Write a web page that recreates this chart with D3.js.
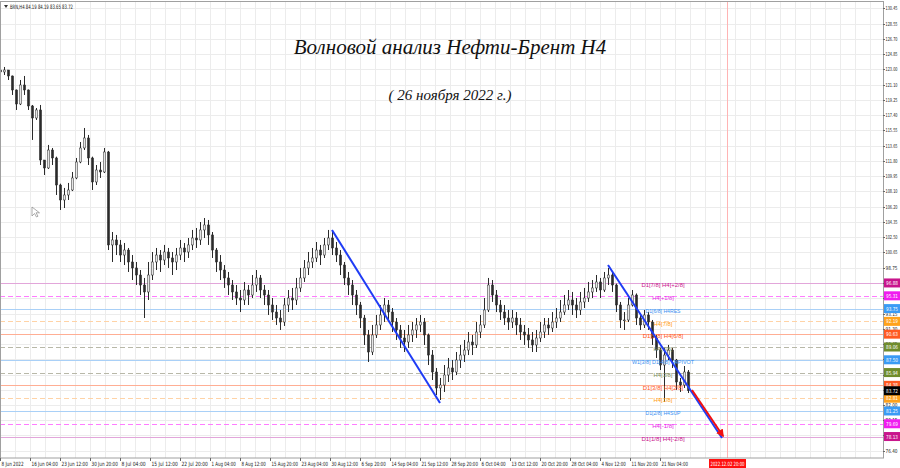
<!DOCTYPE html>
<html><head><meta charset="utf-8">
<script src="https://cdn.jsdelivr.net/npm/d3@7"></script>
<style>
html,body{margin:0;padding:0;background:#fff;}
svg{display:block;font-family:"Liberation Sans",Arial,sans-serif;}
.small{font-family:"Liberation Sans Narrow","DejaVu Sans Condensed","Liberation Sans",sans-serif;}
</style></head>
<body><svg id="chart" width="900" height="468"></svg>
<script>
// ---- DATA (prices; each candle groups 4 H4 bars) ----
const opens = [122.88,122.64,122.88,122.15,120.44,118.73,121.05,120.44,118.49,117.02,118.00,111.89,110.92,113.11,112.14,108.84,107.01,107.62,108.23,109.70,111.65,113.36,114.58,112.14,109.21,110.67,110.43,112.87,101.52,102.13,101.52,100.29,100.90,99.44,98.71,97.85,96.63,95.78,97.85,99.44,100.29,99.68,100.66,99.93,99.44,100.29,101.15,100.66,101.52,102.37,102.13,103.35,103.96,102.74,100.90,99.44,98.46,97.49,96.63,95.78,95.04,94.80,96.02,95.41,96.63,97.49,96.02,95.41,94.19,93.33,92.60,92.11,94.19,95.04,94.80,96.27,97.49,98.71,99.44,99.93,100.90,100.29,101.52,102.37,101.15,100.29,99.07,97.49,96.63,95.41,94.19,92.60,90.53,88.45,90.53,91.75,92.97,94.19,93.33,92.11,91.14,90.16,89.67,90.53,91.14,91.75,92.11,90.53,88.08,86.01,84.06,84.42,85.64,86.50,86.01,87.47,88.08,88.69,89.67,89.31,90.89,91.75,93.58,96.63,95.41,94.19,93.33,92.60,92.11,92.60,91.75,90.89,90.53,89.92,89.31,90.16,90.89,91.75,91.38,92.11,92.60,93.33,94.19,94.80,94.19,93.58,94.56,95.04,95.78,96.27,97.00,96.02,97.49,97.85,96.63,94.19,92.36,92.36,94.19,95.41,92.60,91.75,92.97,92.11,90.16,88.69,86.86,88.08,88.69,87.47,84.79,84.42,86.01];
const highs = [123.13,123.25,122.88,122.20,120.50,121.66,122.15,120.50,118.61,118.24,118.61,111.89,113.73,113.36,112.30,109.00,108.48,109.09,110.43,112.14,114.09,115.80,114.95,112.30,111.28,111.65,113.36,113.00,103.10,102.74,102.13,101.76,101.15,100.29,99.44,98.46,97.49,99.44,100.66,101.15,100.90,101.52,101.15,100.66,101.15,102.13,101.76,102.37,103.35,103.59,104.32,104.81,104.57,103.10,101.15,100.29,99.07,98.22,97.24,96.63,96.02,97.00,96.63,97.85,98.46,97.85,96.63,96.02,95.04,94.19,93.58,95.04,96.02,96.27,97.49,98.71,99.68,100.66,101.15,101.88,101.52,102.37,103.35,103.10,101.88,100.90,99.44,98.22,97.24,96.02,94.56,92.97,91.14,91.75,92.97,94.19,95.04,94.80,93.82,92.60,91.75,91.14,91.75,92.11,92.60,92.97,92.60,90.70,88.69,86.50,85.28,86.86,87.72,87.47,88.45,89.31,89.92,90.89,90.53,92.11,92.97,95.04,97.49,97.24,96.02,94.80,94.19,93.58,93.58,93.33,92.60,91.75,91.38,90.89,91.14,92.11,92.60,92.60,93.33,93.82,94.80,95.41,96.02,95.78,95.04,95.78,96.27,97.00,97.24,97.85,97.49,98.22,98.71,98.22,96.80,94.56,93.33,95.04,96.02,95.60,92.97,93.58,93.33,92.36,90.53,88.94,88.94,89.31,88.94,87.60,85.28,86.74,86.25];
const lows = [122.15,122.27,121.66,119.83,118.00,118.60,119.83,118.00,114.34,116.78,111.28,110.06,110.80,111.28,107.62,105.79,106.03,107.01,108.10,109.55,111.50,113.11,111.28,108.23,108.84,109.70,110.30,100.90,99.44,100.29,99.44,99.07,98.22,97.24,96.63,95.41,92.60,94.80,97.24,98.46,98.22,99.07,98.71,97.85,98.46,99.68,99.44,99.93,100.90,101.15,101.52,102.37,101.52,99.93,98.22,97.24,96.27,95.41,94.80,94.19,93.33,94.19,94.19,95.04,95.78,95.04,94.19,92.97,92.36,91.75,91.14,91.63,93.33,93.58,94.19,95.78,97.00,97.85,98.71,99.44,99.07,99.93,100.90,100.29,99.44,97.85,96.63,95.41,94.19,92.97,91.38,89.31,87.23,88.08,90.16,91.14,92.11,92.11,90.89,89.92,88.94,88.45,88.94,89.67,90.16,90.89,89.31,86.86,85.03,83.20,82.59,83.57,84.79,85.03,85.64,86.50,87.23,88.08,88.08,88.94,90.16,91.38,93.33,94.56,93.33,92.36,91.75,91.14,91.38,90.53,89.92,89.31,88.94,88.45,88.45,89.67,90.16,90.53,90.89,91.38,92.11,92.97,93.58,92.97,92.60,92.97,93.82,94.56,95.04,95.78,95.04,95.78,96.63,95.78,93.33,91.38,91.14,92.11,94.00,91.75,91.14,91.38,91.14,89.31,87.72,86.25,82.35,87.47,86.50,83.81,83.57,84.06,83.44];
const closes = [122.64,122.88,122.15,120.44,118.73,121.05,120.44,118.49,117.02,118.00,111.89,110.92,113.11,112.14,108.84,107.01,107.62,108.23,109.70,111.65,113.36,114.58,112.14,109.21,110.67,110.43,112.87,101.52,102.13,101.52,100.29,100.90,99.44,98.71,97.85,96.63,95.78,97.85,99.44,100.29,99.68,100.66,99.93,99.44,100.29,101.15,100.66,101.52,102.37,102.13,103.35,103.96,102.74,100.90,99.44,98.46,97.49,96.63,95.78,95.04,94.80,96.02,95.41,96.63,97.49,96.02,95.41,94.19,93.33,92.60,92.11,94.19,95.04,94.80,96.27,97.49,98.71,99.44,99.93,100.90,100.29,101.52,102.37,101.15,100.29,99.07,97.49,96.63,95.41,94.19,92.60,90.53,88.45,90.53,91.75,92.97,94.19,93.33,92.11,91.14,90.16,89.67,90.53,91.14,91.75,92.11,90.53,88.08,86.01,84.06,84.42,85.64,86.50,86.01,87.47,88.08,88.69,89.67,89.31,90.89,91.75,93.58,96.63,95.41,94.19,93.33,92.60,92.11,92.60,91.75,90.89,90.53,89.92,89.31,90.16,90.89,91.75,91.38,92.11,92.60,93.33,94.19,94.80,94.19,93.58,94.56,95.04,95.78,96.27,97.00,96.02,97.49,97.85,96.63,94.19,92.36,92.36,94.19,95.41,92.60,91.75,92.97,92.11,90.16,88.69,86.86,88.08,88.69,87.47,84.79,84.42,86.01,83.72];
const barsPerCandle = 4;

const priceTicks = [130.45,128.55,126.70,124.85,123.00,121.10,119.25,117.40,115.55,113.65,111.80,109.95,108.10,106.20,104.35,102.50,100.65,98.75,96.90,95.05,93.15,91.30,89.45,87.60,85.70,83.85,82.00,80.15,78.30,76.40];
const dateLabels = ["8 Jun 2022","16 Jun 04:00","23 Jun 12:00","30 Jun 20:00","8 Jul 04:00","15 Jul 12:00","22 Jul 20:00","1 Aug 04:00","8 Aug 12:00","15 Aug 20:00","23 Aug 04:00","30 Aug 12:00","6 Sep 20:00","14 Sep 04:00","21 Sep 12:00","28 Sep 20:00","6 Oct 04:00","13 Oct 12:00","20 Oct 20:00","28 Oct 04:00","4 Nov 12:00","11 Nov 20:00","21 Nov 04:00"];
const dateLabelBars = [0,30,60,90,120,150,180,210,240,270,300,330,360,390,420,450,480,510,540,570,600,630,660];

const levelValues = [96.88,95.31,93.75,92.19,90.63,89.06,87.50,85.94,84.38,82.81,81.25,79.69,78.13];
const levelNames = ["D1[7/8] H4[+2/8]","H4[+1/8]","D1[6/8] H4RES","H4[7/8]","D1[5/8] H4[6/8]","H4[5/8]","W1[3/8] D1[4/8] H4PIVOT","H4[3/8]","D1[3/8] H4[2/8]","H4[1/8]","D1[2/8] H4SUP","H4[-1/8]","D1[1/8] H4[-2/8]"];
const levelKinds = ["d1","h4m","blue","orange","red","gray","blue","gray","red","orange","blue","h4m","d1"];

const trendLines = [
  {b1:332, p1:103.35, b2:440, p2:82.22},
  {b1:608, p1:99.07, b2:722, p2:77.95}
];
const forecastArrow = {b1:692, p1:83.81, b2:723, p2:78.19};
const lastPrice = 83.72;
const futureBar = 727;
const futureLabel = "2022.12.02 20:00";
const infoText = "BRN,H4  84.19 84.19 83.65 83.72";
const title = "Волновой анализ Нефти-Брент H4";
const subtitle = "( 26 ноября 2022 г.)";

// ---- STYLES ----
const kindStyle = {
  d1:    {line:"#e2a6da", dash:null,  box:"#c8168c", text:"#c8168c"},
  h4m:   {line:"#ff7cff", dash:"5,3", box:"#f01cf0", text:"#e61ee6"},
  blue:  {line:"#a9d0f7", dash:null,  box:"#3a9bf5", text:"#3a8ff0"},
  orange:{line:"#ffd3a6", dash:"5,3", box:"#ffa21c", text:"#ff9a10"},
  red:   {line:"#ffae94", dash:null,  box:"#ff5a22", text:"#ff5520"},
  gray:  {line:"#b8b8a8", dash:"5,3", box:"#6f8c2c", text:"#7d8c58"}
};
const charW = 2.2;

const svg = d3.select("#chart");
const plotR = 883, plotB = 458;
const x = d3.scaleLinear().domain([0, 883]).range([0, 883]);
const y = d3.scaleLinear().domain([76.40, 130.45]).range([450.7, 8]);

// grid
const g = svg.append("g");
g.selectAll("line.vg").data(d3.range(15, 883, 15)).join("line")
  .attr("x1", d => Math.round(x(d)) + 0.5).attr("x2", d => Math.round(x(d)) + 0.5)
  .attr("y1", 2).attr("y2", plotB).attr("stroke", "#ececec");
g.selectAll("line.hg").data(priceTicks).join("line")
  .attr("x1", 0).attr("x2", plotR)
  .attr("y1", d => Math.round(y(d)) + 0.5).attr("y2", d => Math.round(y(d)) + 0.5)
  .attr("stroke", "#ececec");

// future vertical line
svg.append("line").attr("x1", x(futureBar)+0.5).attr("x2", x(futureBar)+0.5)
  .attr("y1", 2).attr("y2", plotB).attr("stroke", "#ffb4b4").attr("stroke-width", 1);

// level lines
const levels = levelValues.map((v, i) => ({v, name: levelNames[i], kind: levelKinds[i]}));
svg.append("g").selectAll("line").data(levels).join("line")
  .attr("x1", 0).attr("x2", plotR)
  .attr("y1", d => Math.round(y(d.v)) + 0.5).attr("y2", d => Math.round(y(d.v)) + 0.5)
  .attr("stroke", d => kindStyle[d.kind].line)
  .attr("stroke-dasharray", d => kindStyle[d.kind].dash)
  .attr("stroke-width", 1);

// candles
const candles = closes.map((c, i) => ({bar: i * barsPerCandle, o: opens[i], h: highs[i], l: lows[i], c}));
const cg = svg.append("g");
cg.selectAll("line").data(candles).join("line")
  .attr("x1", d => x(d.bar) + 0.5).attr("x2", d => x(d.bar) + 0.5)
  .attr("y1", d => y(d.h)).attr("y2", d => y(d.l))
  .attr("stroke", "#2a2a2a").attr("stroke-width", 1);
cg.selectAll("rect").data(candles).join("rect")
  .attr("x", d => x(d.bar) - 0.6).attr("width", 2.2)
  .attr("y", d => y(Math.max(d.o, d.c)))
  .attr("height", d => Math.max(0.8, Math.abs(y(d.o) - y(d.c))))
  .attr("fill", d => d.c >= d.o ? "#e6e6e6" : "#2a2a2a")
  .attr("stroke", "#2a2a2a").attr("stroke-width", 0.5);

// level labels
svg.append("g").selectAll("text").data(levels).join("text")
  .attr("x", 663).attr("y", d => y(d.v) + 4.2)
  .attr("text-anchor", "middle").attr("font-size", 5.6)
  .attr("textLength", d => d.name.length * 2.7).attr("lengthAdjust", "spacingAndGlyphs")
  .attr("fill", d => kindStyle[d.kind].text)
  .text(d => d.name);

// trend lines
svg.append("g").selectAll("line").data(trendLines).join("line")
  .attr("x1", d => x(d.b1)).attr("y1", d => y(d.p1))
  .attr("x2", d => x(d.b2)).attr("y2", d => y(d.p2))
  .attr("stroke", "#1f3cf5").attr("stroke-width", 2);

// forecast arrow
svg.append("defs").append("marker").attr("id", "ah")
  .attr("viewBox", "0 0 10 10").attr("refX", 8).attr("refY", 5)
  .attr("markerWidth", 4).attr("markerHeight", 4).attr("orient", "auto")
  .append("path").attr("d", "M0,0L10,5L0,10z").attr("fill", "#f01010");
svg.append("line")
  .attr("x1", x(forecastArrow.b1)).attr("y1", y(forecastArrow.p1))
  .attr("x2", x(forecastArrow.b2)).attr("y2", y(forecastArrow.p2))
  .attr("stroke", "#f01010").attr("stroke-width", 2).attr("marker-end", "url(#ah)");

// frame
svg.append("rect").attr("x", 0.5).attr("y", 1.5).attr("width", plotR).attr("height", plotB - 1.5)
  .attr("fill", "none").attr("stroke", "#a0a0a0");

// right axis (labels fully covered by level boxes are hidden, as in the terminal)
const boxPrices = levelValues.concat([lastPrice]);
const visibleTicks = priceTicks.filter(t => d3.min(boxPrices, b => Math.abs(y(b) - y(t))) > 2.5);
const ax = svg.append("g");
ax.selectAll("line").data(priceTicks).join("line")
  .attr("x1", plotR).attr("x2", plotR + 2)
  .attr("y1", d => Math.round(y(d)) + 0.5).attr("y2", d => Math.round(y(d)) + 0.5)
  .attr("stroke", "#666");
ax.selectAll("text").data(visibleTicks).join("text")
  .attr("class", "small")
  .attr("x", 885.5).attr("y", d => y(d) + 2)
  .attr("font-size", 5.4).attr("fill", "#222")
  .attr("textLength", 12).attr("lengthAdjust", "spacingAndGlyphs")
  .text(d => d.toFixed(2));

// level boxes on axis
const bx = svg.append("g").selectAll("g").data(levels).join("g")
  .attr("transform", d => `translate(884,${y(d.v)})`);
bx.append("rect").attr("x", 0).attr("y", -4.5).attr("width", 16).attr("height", 9)
  .attr("fill", d => kindStyle[d.kind].box);
bx.append("text").attr("class", "small").attr("x", 2).attr("y", 2).attr("font-size", 5.4).attr("fill", "#fff")
  .attr("textLength", 12).attr("lengthAdjust", "spacingAndGlyphs")
  .text(d => d.v.toFixed(2));
const lp = svg.append("g").attr("transform", `translate(884,${y(lastPrice)})`);
lp.append("rect").attr("x", 0).attr("y", -4.5).attr("width", 16).attr("height", 9).attr("fill", "#000");
lp.append("text").attr("class", "small").attr("x", 2).attr("y", 2).attr("font-size", 5.4).attr("fill", "#fff")
  .attr("textLength", 12).attr("lengthAdjust", "spacingAndGlyphs").text(lastPrice.toFixed(2));

// bottom axis
const bxg = svg.append("g");
bxg.selectAll("line").data(dateLabelBars).join("line")
  .attr("x1", d => Math.round(x(d)) + 0.5).attr("x2", d => Math.round(x(d)) + 0.5)
  .attr("y1", plotB).attr("y2", plotB + 3).attr("stroke", "#666");
bxg.selectAll("text").data(dateLabels).join("text")
  .attr("class", "small")
  .attr("x", (d, i) => x(dateLabelBars[i]) + 1.5).attr("y", 465.5)
  .attr("font-size", 5.8).attr("fill", "#222")
  .attr("textLength", d => d.length * charW).attr("lengthAdjust", "spacingAndGlyphs")
  .text(d => d);
svg.append("rect").attr("x", x(futureBar) - 18).attr("y", 459).attr("width", 37).attr("height", 9).attr("fill", "#ff1010");
svg.append("text").attr("class", "small").attr("x", x(futureBar) - 16.5).attr("y", 465.8)
  .attr("font-size", 5.8).attr("fill", "#fff")
  .attr("textLength", 34).attr("lengthAdjust", "spacingAndGlyphs").text(futureLabel);

// info text
svg.append("path").attr("d", "M4,5L8,5L6,8z").attr("fill", "#333");
svg.append("text").attr("class", "small").attr("x", 10).attr("y", 8.5).attr("font-size", 6).attr("fill", "#222")
  .attr("textLength", 63).attr("lengthAdjust", "spacingAndGlyphs").text(infoText);

// titles
svg.append("text").attr("x", 450).attr("y", 54).attr("text-anchor", "middle")
  .attr("font-family", "'Liberation Serif','DejaVu Serif',serif").attr("font-style", "italic")
  .attr("font-size", 21).attr("fill", "#111").text(title);
svg.append("text").attr("x", 450).attr("y", 100).attr("text-anchor", "middle")
  .attr("font-family", "'Liberation Serif','DejaVu Serif',serif").attr("font-style", "italic")
  .attr("font-size", 15).attr("fill", "#111").text(subtitle);

// mouse cursor
svg.append("path").attr("d", "M32,207L32,216L34.5,213.5L36.5,217L38,216.2L36,212.8L39.5,212.8Z")
  .attr("fill", "#fff").attr("stroke", "#888").attr("stroke-width", 0.7);
</script></body></html>
